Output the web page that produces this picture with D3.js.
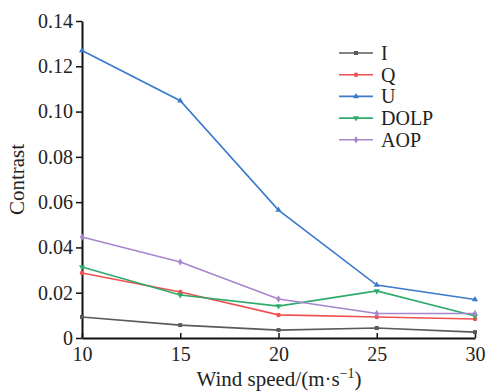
<!DOCTYPE html>
<html>
<head>
<meta charset="utf-8">
<script src="https://cdn.jsdelivr.net/npm/d3@7"></script>
<style>
  html, body { margin: 0; padding: 0; background: #fff; }
  svg { display: block; }
  svg text { font-family: "Liberation Serif", "Times New Roman", "DejaVu Serif", serif !important; }
</style>
</head>
<body>
<svg id="chart" width="486" height="392"></svg>
<script>
// Wind speed categories (m/s)
const windSpeeds = [10, 15, 20, 25, 30];
// Contrast for each polarization parameter
const contrastI    = [0.0093, 0.0057, 0.0035, 0.0044, 0.0026];
const contrastQ    = [0.0287, 0.0203, 0.0102, 0.0093, 0.0084];
const contrastU    = [0.1270, 0.1048, 0.0565, 0.0234, 0.0170];
const contrastDOLP = [0.0314, 0.0190, 0.0141, 0.0208, 0.0097];
const contrastAOP  = [0.0446, 0.0336, 0.0172, 0.0108, 0.0108];
const seriesNames  = ["I", "Q", "U", "DOLP", "AOP"];
const yTicks = [0, 0.02, 0.04, 0.06, 0.08, 0.10, 0.12, 0.14];

const seriesValues = [contrastI, contrastQ, contrastU, contrastDOLP, contrastAOP];
const colors = ["#5a5a5a", "#f05050", "#3a7acc", "#2eaa6a", "#a785cf"];
const symbols = [d3.symbolSquare, d3.symbolCircle, d3.symbolTriangle, d3.symbolTriangle, d3.symbolDiamond];
const symbolRotate = [0, 0, 0, 180, 0];
const FONT = "'Liberation Serif', 'Times New Roman', serif";

const svg = d3.select("#chart");
const margin = { left: 82, right: 11, top: 21, bottom: 54 };
const W = 486, H = 392;

const x = d3.scaleLinear().domain([10, 30]).range([margin.left, W - margin.right]);
const y = d3.scaleLinear().domain([0, 0.14]).range([H - margin.bottom, margin.top]);

const fmtY = d => d === 0 ? "0" : d3.format(".2f")(d);

// Y axis
const yAxis = svg.append("g")
  .attr("transform", `translate(${margin.left},0)`)
  .call(d3.axisLeft(y).tickValues(yTicks).tickFormat(fmtY).tickSize(6).tickPadding(3).tickSizeOuter(0));
// X axis (ticks point inward)
const xAxis = svg.append("g")
  .attr("transform", `translate(0,${H - margin.bottom})`)
  .call(d3.axisBottom(x).tickValues(windSpeeds).tickSize(-5).tickPadding(6).tickSizeOuter(0));

[yAxis, xAxis].forEach(g => {
  g.attr("font-family", FONT).attr("font-size", 20);
  g.select(".domain").attr("stroke", "#111").attr("stroke-width", 2);
  g.selectAll(".tick line").attr("stroke", "#111").attr("stroke-width", 1.5);
  g.selectAll(".tick text").attr("fill", "#222");
});
xAxis.selectAll(".tick text").attr("dy", "0.85em");

// Series lines and markers
const line = d3.line().x((d, i) => x(windSpeeds[i])).y(d => y(d));
seriesValues.forEach((vals, k) => {
  svg.append("path")
    .datum(vals)
    .attr("fill", "none")
    .attr("stroke", colors[k])
    .attr("stroke-width", 1.6)
    .attr("d", line);
  svg.append("g").selectAll("path")
    .data(vals)
    .join("path")
    .attr("transform", (d, i) => `translate(${x(windSpeeds[i])},${y(d)}) rotate(${symbolRotate[k]})`)
    .attr("d", d3.symbol().type(symbols[k]).size(16))
    .attr("fill", colors[k]);
});

// Legend
const legend = svg.append("g").attr("transform", "translate(339,53)")
  .attr("font-family", FONT);
seriesNames.forEach((name, k) => {
  const row = legend.append("g").attr("transform", `translate(0,${k * 21.7})`);
  row.append("line").attr("x1", 0).attr("x2", 34).attr("stroke", colors[k]).attr("stroke-width", 1.6);
  row.append("path")
    .attr("transform", `translate(17,0) rotate(${symbolRotate[k]})`)
    .attr("d", d3.symbol().type(symbols[k]).size(16))
    .attr("fill", colors[k]);
  row.append("text").attr("x", 42).attr("dy", "0.35em")
    .attr("font-size", 20).attr("fill", "#222").text(name);
});

// Axis titles
svg.append("text")
  .attr("transform", `translate(24,${(margin.top + H - margin.bottom) / 2}) rotate(-90)`)
  .attr("text-anchor", "middle")
  .attr("font-family", FONT)
  .attr("font-size", 21).attr("fill", "#222")
  .text("Contrast");

const xt = svg.append("text")
  .attr("x", 279)
  .attr("y", 386)
  .attr("text-anchor", "middle")
  .attr("font-family", FONT)
  .attr("font-size", 21).attr("fill", "#222");
xt.append("tspan").text("Wind speed/(m·s");
xt.append("tspan").attr("dy", -8).attr("font-size", 14).text("−1");
xt.append("tspan").attr("dy", 8).text(")");
</script>
</body>
</html>
